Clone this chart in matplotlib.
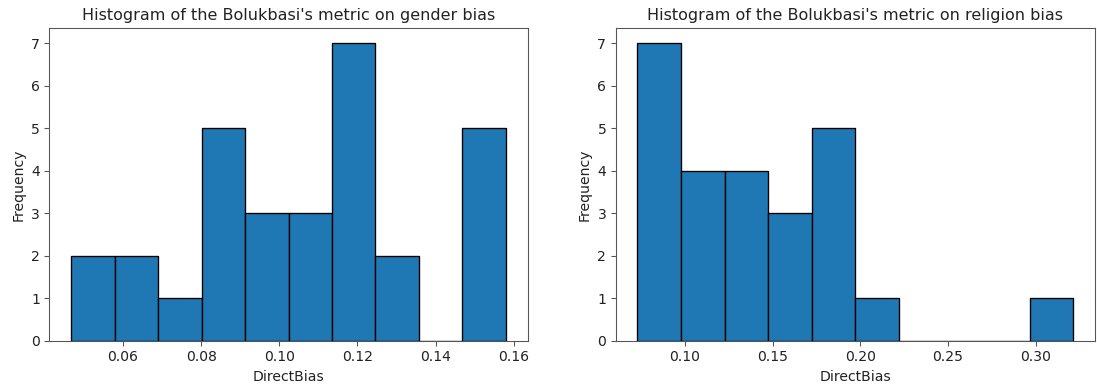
import numpy as np
import matplotlib
matplotlib.use("Agg")
import matplotlib.pyplot as plt

# gender bias histogram (bin edges + counts)
gender_edges = np.linspace(0.0467, 0.1580, 11)
gender_counts = [2, 2, 1, 5, 3, 3, 7, 2, 0, 5]

# religion bias histogram
religion_edges = np.linspace(0.0730, 0.3215, 11)
religion_counts = [7, 4, 4, 3, 5, 1, 0, 0, 0, 1]

titles = ["Histogram of the Bolukbasi's metric on gender bias",
          "Histogram of the Bolukbasi's metric on religion bias"]

DPI = 96
W, H = 1097, 391
fig, axes = plt.subplots(1, 2, figsize=(W / DPI, H / DPI), dpi=DPI)

# axes boxes in pixels: (left, right), top and bottom shared
boxes = [(49.3, 527.7), (615.7, 1095.0)]
top_px, bottom_px = 28.3, 341.0
for ax, (l, r) in zip(axes, boxes):
    ax.set_position([l / W, 1 - bottom_px / H, (r - l) / W, (bottom_px - top_px) / H])

for ax, edges, counts, title in zip(axes, [gender_edges, religion_edges],
                                    [gender_counts, religion_counts], titles):
    ax.hist(edges[:-1], bins=edges, weights=counts, color="#1f77b4", edgecolor="black")
    ax.set_title(title, fontsize=12, color="#222222")
    ax.set_xlabel("DirectBias", fontsize=10.5, color="#222222")
    ax.set_ylabel("Frequency", fontsize=10.5, color="#222222")
    ax.tick_params(labelsize=10.5, labelcolor="#222222", color="#555555")
    for s in ax.spines.values():
        s.set_edgecolor("#555555")

axes[0].set_xticks([0.06, 0.08, 0.10, 0.12, 0.14, 0.16])
axes[1].set_xticks([0.10, 0.15, 0.20, 0.25, 0.30])

fig.savefig("out.png", dpi=DPI)
